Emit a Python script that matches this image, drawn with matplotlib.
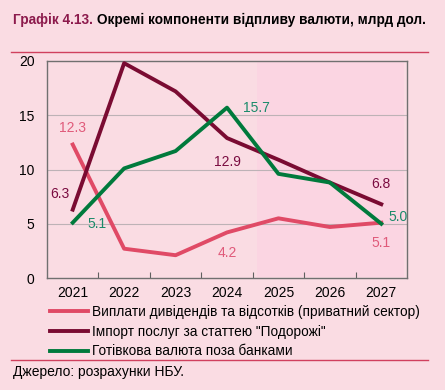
import matplotlib.pyplot as plt
from matplotlib.lines import Line2D

plt.rcParams['font.family'] = ['Liberation Sans', 'DejaVu Sans']

years = ["2021", "2022", "2023", "2024", "2025", "2026", "2027"]
dividends = [12.3, 2.7, 2.1, 4.2, 5.5, 4.7, 5.1]
travel = [6.3, 19.8, 17.2, 12.9, 10.9, 8.8, 6.8]
cash = [5.1, 10.1, 11.7, 15.7, 9.6, 8.8, 5.0]

series_names = [
    "Виплати дивідендів та відсотків (приватний сектор)",
    "Імпорт послуг за статтею \"Подорожі\"",
    "Готівкова валюта поза банками",
]

bg = "#fadce3"
c_div = "#e04a66"
c_trav = "#7a0b32"
c_cash = "#007a3c"

fig = plt.figure(figsize=(4.45, 3.9), dpi=100, facecolor=bg)
ax = fig.add_axes([47 / 445, 1 - 278 / 390, 360 / 445, 217 / 390])
ax.set_facecolor(bg)

x = list(range(len(years)))
ax.axvspan(3.58, 6.45, ymin=0.005, ymax=0.995, color="#fbd5e2", lw=0, zorder=0)

for v in [5, 10, 15]:
    ax.axhline(v, color="#bdb2b6", lw=0.8, zorder=1)

ax.plot(x, dividends, color=c_div, lw=2.8, zorder=3)
ax.plot(x, travel, color=c_trav, lw=2.8, zorder=3)
ax.plot(x, cash, color=c_cash, lw=2.8, zorder=4)

ax.set_xlim(-0.5, 6.5)
ax.set_ylim(0, 20)
ax.set_yticks([0, 5, 10, 15, 20])
ax.set_xticks([i + 0.5 for i in range(6)])
ax.set_xticklabels([])
ax.set_xticks(x, minor=True)
ax.set_xticklabels(years, minor=True)
ax.tick_params(axis="x", which="major", length=4, color="#606060", direction="in")
ax.tick_params(axis="x", which="minor", length=0, labelsize=10, pad=6)
ax.tick_params(axis="y", length=0, labelsize=10, pad=9)
for s in ax.spines.values():
    s.set_color("#707070")
    s.set_linewidth(1.0)

# data labels
lab_div = "#e05a7a"
lab_trav = "#7a0b40"
lab_cash = "#1a8a6a"
fs = 10
ax.text(0, 13.8, "12.3", color=lab_div, fontsize=fs, ha="center", va="center")
ax.text(3, 2.3, "4.2", color=lab_div, fontsize=fs, ha="center", va="center")
ax.text(6, 3.2, "5.1", color=lab_div, fontsize=fs, ha="center", va="center")
ax.text(-0.25, 7.7, "6.3", color=lab_trav, fontsize=fs, ha="center", va="center")
ax.text(3, 10.7, "12.9", color=lab_trav, fontsize=fs, ha="center", va="center")
ax.text(6, 8.7, "6.8", color=lab_trav, fontsize=fs, ha="center", va="center")
ax.text(0.48, 5.0, "5.1", color=lab_cash, fontsize=fs, ha="center", va="center")
ax.text(3.58, 15.7, "15.7", color=lab_cash, fontsize=fs, ha="center", va="center")
ax.text(6.32, 5.6, "5.0", color=lab_cash, fontsize=fs, ha="center", va="center")

# title
fig.text(13 / 445, 1 - 20 / 390, "Графік 4.13.", color="#8c1a4c", fontsize=9.8,
         fontweight="bold", va="center", ha="left")
fig.text(97 / 445, 1 - 20 / 390, "Окремі компоненти відпливу валюти, млрд дол.",
         color="black", fontsize=9.8, fontweight="bold", va="center", ha="left")
fig.add_artist(Line2D([11 / 445, 428 / 445], [1 - 52 / 390, 1 - 52 / 390],
                      color="#d0405e", lw=1.0))

# legend
handles = [Line2D([], [], color=c, lw=2.8) for c in [c_div, c_trav, c_cash]]
fig.legend(handles, series_names, loc="upper left",
           bbox_to_anchor=(50 / 445, 1 - 305 / 390), frameon=False, fontsize=9.8,
           handlelength=2.8, handletextpad=0.25, labelspacing=0.42, borderaxespad=0,
           borderpad=0)

fig.add_artist(Line2D([11 / 445, 428 / 445], [1 - 360 / 390, 1 - 360 / 390],
                      color="#d0405e", lw=1.0))
fig.text(13 / 445, 1 - 372 / 390, "Джерело: розрахунки НБУ.", fontsize=10,
         va="center", ha="left")

fig.savefig("out.png", dpi=100, facecolor=bg)
